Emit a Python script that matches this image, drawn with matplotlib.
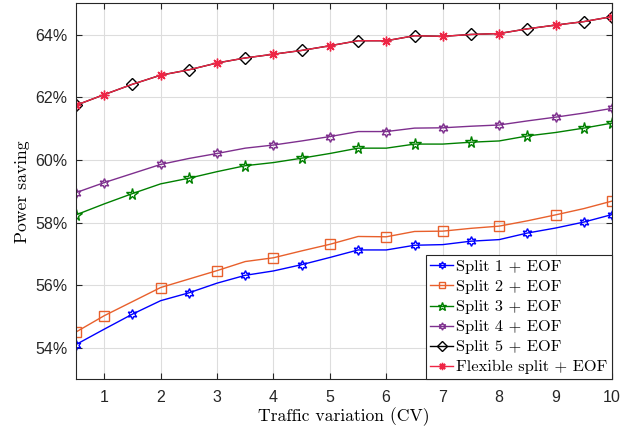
"""Power saving vs traffic variation for the split options with EOF."""

import matplotlib

matplotlib.use("Agg")
import matplotlib.pyplot as plt
import numpy as np
from matplotlib.ticker import FuncFormatter

cv = [0.5, 1, 1.5, 2, 2.5, 3, 3.5, 4, 4.5, 5,
      5.5, 6, 6.5, 7, 7.5, 8, 8.5, 9, 9.5, 10]

split1 = [54.11, 54.60, 55.08, 55.51, 55.76, 56.07, 56.32, 56.46, 56.66, 56.89,
          57.13, 57.13, 57.28, 57.30, 57.41, 57.46, 57.67, 57.83, 58.02, 58.26]
split2 = [54.51, 55.03, 55.48, 55.93, 56.20, 56.47, 56.76, 56.88, 57.10, 57.31,
          57.56, 57.55, 57.72, 57.73, 57.82, 57.89, 58.06, 58.25, 58.45, 58.69]
split3 = [58.25, 58.60, 58.93, 59.24, 59.42, 59.63, 59.82, 59.92, 60.06, 60.21,
          60.38, 60.38, 60.51, 60.51, 60.57, 60.61, 60.77, 60.88, 61.02, 61.18]
split4 = [58.96, 59.28, 59.57, 59.86, 60.05, 60.21, 60.38, 60.48, 60.61, 60.75,
          60.91, 60.91, 61.02, 61.03, 61.08, 61.12, 61.25, 61.37, 61.50, 61.65]
split5 = [61.75, 62.09, 62.42, 62.71, 62.88, 63.10, 63.26, 63.38, 63.50, 63.65,
          63.81, 63.81, 63.97, 63.95, 64.01, 64.04, 64.19, 64.31, 64.42, 64.58]
flexible = [61.75, 62.09, 62.42, 62.71, 62.88, 63.10, 63.26, 63.38, 63.50, 63.65,
            63.81, 63.81, 63.97, 63.95, 64.01, 64.04, 64.19, 64.31, 64.42, 64.58]

labels = ["Split 1 + EOF", "Split 2 + EOF", "Split 3 + EOF",
          "Split 4 + EOF", "Split 5 + EOF", "Flexible split + EOF"]

SERIF = ["cmr10", "DejaVu Serif"]
plt.rcParams["axes.formatter.use_mathtext"] = True

odd_marks = list(range(0, 20, 2)) + [19]
even_marks = [0] + list(range(1, 20, 2))

hexagram = (6, 1, 0)
asterisk = (8, 2, 0)

styles = [
    (split1, "#0000FF", hexagram, 7, odd_marks),
    (split2, "#E8602C", "s", 6.5, even_marks),
    (split3, "#008000", "*", 8.5, odd_marks),
    (split4, "#7E2F8E", hexagram, 7, even_marks),
    (split5, "#000000", "D", 6.5, odd_marks),
    (flexible, "#EE2545", asterisk, 7, even_marks),
]

fig = plt.figure(figsize=(6.37, 4.32), dpi=100)
ax = fig.add_axes([0.1193, 0.1220, 0.8415, 0.8700])

for (vals, color, marker, ms, marks), label in zip(styles, labels):
    ax.plot(cv, vals, color=color, lw=1.0, marker=marker, ms=ms,
            mfc="none" if marker != asterisk else color, mec=color,
            mew=1.0, markevery=marks, label=label)

ax.set_xlim(0.5, 10)
ax.set_ylim(53, 65)
ax.set_xticks(np.arange(1, 11))
ax.set_yticks(np.arange(54, 65, 2))
ax.yaxis.set_major_formatter(FuncFormatter(lambda v, _: f"{v:.0f}%"))
ax.tick_params(direction="in", top=True, right=True, length=4,
               labelsize=11.5, colors="#262626")
ax.tick_params(axis="x", pad=7)
ax.tick_params(axis="y", pad=6)
for lbl in ax.get_xticklabels() + ax.get_yticklabels():
    lbl.set_family("Liberation Sans")
ax.grid(True, color="#DDDDDD", lw=0.8)
ax.set_axisbelow(True)
for s in ax.spines.values():
    s.set_color("#262626")
    s.set_linewidth(0.8)

ax.set_xlabel("Traffic variation (CV)", family=SERIF, fontsize=12.7, labelpad=2)
ax.set_ylabel("Power saving", family=SERIF, fontsize=12.7, labelpad=4)

leg = ax.legend(loc="lower right", prop={"family": SERIF, "size": 11.8},
                borderaxespad=0, fancybox=False, framealpha=1,
                edgecolor="#262626", handlelength=1.35, handletextpad=0.2,
                labelspacing=0.34, markerscale=0.75, borderpad=0.3)
leg.get_frame().set_linewidth(0.8)

fig.savefig("out.png", dpi=100)
plt.close(fig)
